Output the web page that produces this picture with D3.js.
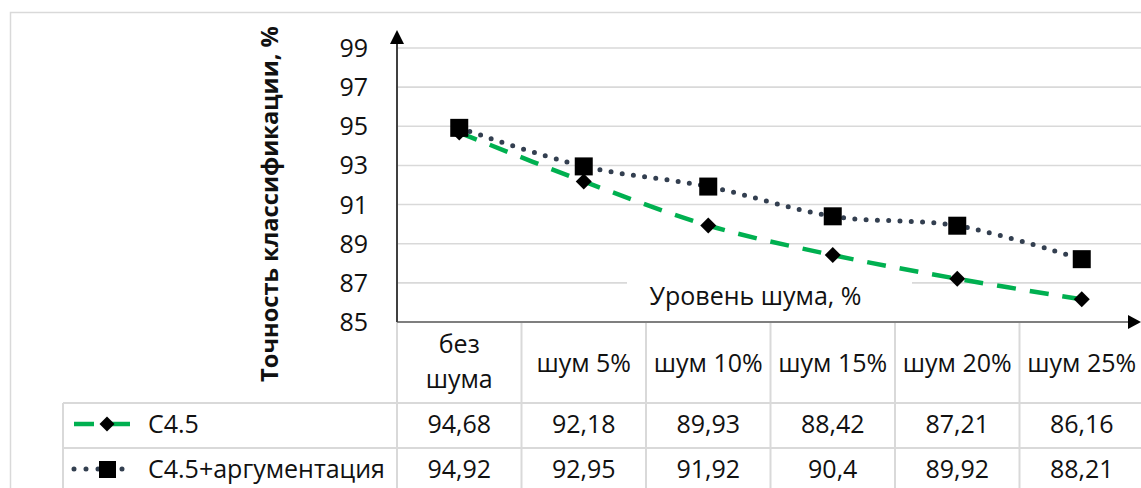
<!DOCTYPE html>
<html>
<head>
<meta charset="utf-8">
<script src="https://cdn.jsdelivr.net/npm/d3@7"></script>
<style>
  html, body { margin: 0; padding: 0; background: #fff; }
  svg { display: block; font-family: "Open Sans", "Noto Sans", sans-serif; }
</style>
</head>
<body>
<svg id="chart" width="1141" height="488"></svg>
<script>
// ---- data ----
const categories = ["без шума", "шум 5%", "шум 10%", "шум 15%", "шум 20%", "шум 25%"];
const seriesNames = ["C4.5", "C4.5+аргументация"];
const c45 = [94.68, 92.18, 89.93, 88.42, 87.21, 86.16];
const c45arg = [94.92, 92.95, 91.92, 90.4, 89.92, 88.21];
const c45Labels = ["94,68", "92,18", "89,93", "88,42", "87,21", "86,16"];
const c45argLabels = ["94,92", "92,95", "91,92", "90,4", "89,92", "88,21"];
const yTicks = [85, 87, 89, 91, 93, 95, 97, 99];
const yTitle = "Точность классификации, %";
const xTitle = "Уровень шума, %";

// ---- layout ----
const svg = d3.select("#chart");
const W = 1141, H = 488;
const x0 = 397, xEnd = 1144, yBottom = 322, yTop = 48;
const rowTop1 = 403, rowTop2 = 448;
const gridCol = "#d9d9d9";

const x = d3.scaleBand().domain(categories).range([x0, xEnd]);
const y = d3.scaleLinear().domain([85, 99]).range([yBottom, yTop]);
const cx = d => x(d) + x.bandwidth() / 2;

// outer border
svg.append("path").attr("d", `M10.5,${H + 5}V12.5H${W + 5}`)
  .attr("fill", "none").attr("stroke", gridCol).attr("stroke-width", 1.5);

// gridlines
svg.append("g").selectAll("line").data(yTicks.filter(t => t > 85)).join("line")
  .attr("x1", x0).attr("x2", W).attr("y1", d => y(d)).attr("y2", d => y(d))
  .attr("stroke", gridCol).attr("stroke-width", 1.6);

// tick labels
svg.append("g").selectAll("text").data(yTicks).join("text")
  .attr("x", 368).attr("y", d => y(d)).attr("dy", "0.36em")
  .attr("text-anchor", "end").attr("font-size", 25).attr("fill", "#111")
  .text(d => d);

// x-axis title with white background
const xt = svg.append("g");
xt.append("rect").attr("x", 627).attr("y", 268).attr("width", 285).attr("height", 50).attr("fill", "#fff");
xt.append("text").attr("x", 755.5).attr("y", 305).attr("text-anchor", "middle")
  .attr("font-size", 25).attr("fill", "#111").text(xTitle);

// y-axis title
const yt = svg.append("text").attr("transform", "translate(278,204) rotate(-90)")
  .attr("text-anchor", "middle").attr("font-weight", "bold").attr("font-size", 25)
  .attr("fill", "#111").text(yTitle);
{
  const len = yt.node().getComputedTextLength();
  yt.attr("font-size", 25 * 356 / len);
}

// table grid
const tbl = svg.append("g").attr("stroke", gridCol).attr("stroke-width", 2);
// vertical lines
x.domain().forEach((c, i) => {
  tbl.append("line").attr("x1", x(c)).attr("x2", x(c)).attr("y1", yBottom).attr("y2", H + 5);
});
tbl.append("line").attr("x1", xEnd).attr("x2", xEnd).attr("y1", yBottom).attr("y2", H + 5);
// legend left border
tbl.append("line").attr("x1", 63).attr("x2", 63).attr("y1", rowTop1).attr("y2", H + 5);
// horizontal lines
[rowTop1, rowTop2].forEach(yy => {
  tbl.append("line").attr("x1", 63).attr("x2", W + 5).attr("y1", yy).attr("y2", yy);
});

// header text
const hdr = svg.append("g").attr("font-size", 25).attr("fill", "#111").attr("text-anchor", "middle");
categories.forEach(c => {
  const parts = c === "без шума" ? ["без", "шума"] : [c];
  if (parts.length === 2) {
    hdr.append("text").attr("x", cx(c)).attr("y", 353).text(parts[0]);
    hdr.append("text").attr("x", cx(c)).attr("y", 388).text(parts[1]);
  } else {
    hdr.append("text").attr("x", cx(c)).attr("y", 372).text(parts[0]);
  }
});

// value rows
const vals = svg.append("g").attr("font-size", 25).attr("fill", "#111").attr("text-anchor", "middle");
categories.forEach((c, i) => {
  vals.append("text").attr("x", cx(c)).attr("y", 433).text(c45Labels[i]);
  vals.append("text").attr("x", cx(c)).attr("y", 478).text(c45argLabels[i]);
});

// legend labels
svg.append("text").attr("x", 148).attr("y", 433).attr("font-size", 25).attr("fill", "#111").text(seriesNames[0]);
svg.append("text").attr("x", 148).attr("y", 478).attr("font-size", 25).attr("fill", "#111").text(seriesNames[1]);

// axes
svg.append("line").attr("x1", x0).attr("x2", 1130).attr("y1", yBottom).attr("y2", yBottom)
  .attr("stroke", "#7f7f7f").attr("stroke-width", 2);
svg.append("path").attr("d", `M1141,${yBottom}L1128,${yBottom - 7}L1128,${yBottom + 7}Z`).attr("fill", "#000");
svg.append("line").attr("x1", x0).attr("x2", x0).attr("y1", yBottom).attr("y2", 40)
  .attr("stroke", "#404040").attr("stroke-width", 2);
svg.append("path").attr("d", `M${x0},30L${x0 - 7},44L${x0 + 7},44Z`).attr("fill", "#000");

// series
const green = "#00b050", navy = "#333f50";
const line = d3.line().x((d, i) => cx(categories[i])).y(d => y(d)).curve(d3.curveCatmullRom.alpha(0.5));

svg.append("path").datum(c45).attr("d", line).attr("fill", "none")
  .attr("stroke", green).attr("stroke-width", 4.5).attr("stroke-dasharray", "19,14");
const diamond = s => `M0,${-s}L${s},0L0,${s}L${-s},0Z`;
svg.append("g").selectAll("path").data(c45).join("path")
  .attr("transform", (d, i) => `translate(${cx(categories[i])},${y(d)})`)
  .attr("d", diamond(8)).attr("fill", "#000");

svg.append("path").datum(c45arg).attr("d", line).attr("fill", "none")
  .attr("stroke", navy).attr("stroke-width", 5).attr("stroke-linecap", "round")
  .attr("stroke-dasharray", "0,11.3");
svg.append("g").selectAll("rect").data(c45arg).join("rect")
  .attr("x", (d, i) => cx(categories[i]) - 9).attr("y", d => y(d) - 9)
  .attr("width", 18).attr("height", 18).attr("fill", "#000");

// legend symbols
svg.append("line").attr("x1", 74).attr("x2", 130).attr("y1", 424).attr("y2", 424)
  .attr("stroke", green).attr("stroke-width", 4.5).attr("stroke-dasharray", "20,12,24");
svg.append("path").attr("transform", "translate(107,424)").attr("d", diamond(7.5)).attr("fill", "#000");
svg.append("line").attr("x1", 74).attr("x2", 134).attr("y1", 469).attr("y2", 469)
  .attr("stroke", navy).attr("stroke-width", 5).attr("stroke-linecap", "round").attr("stroke-dasharray", "0,12");
svg.append("rect").attr("x", 99).attr("y", 461).attr("width", 17).attr("height", 17).attr("fill", "#000");
</script>
</body>
</html>
